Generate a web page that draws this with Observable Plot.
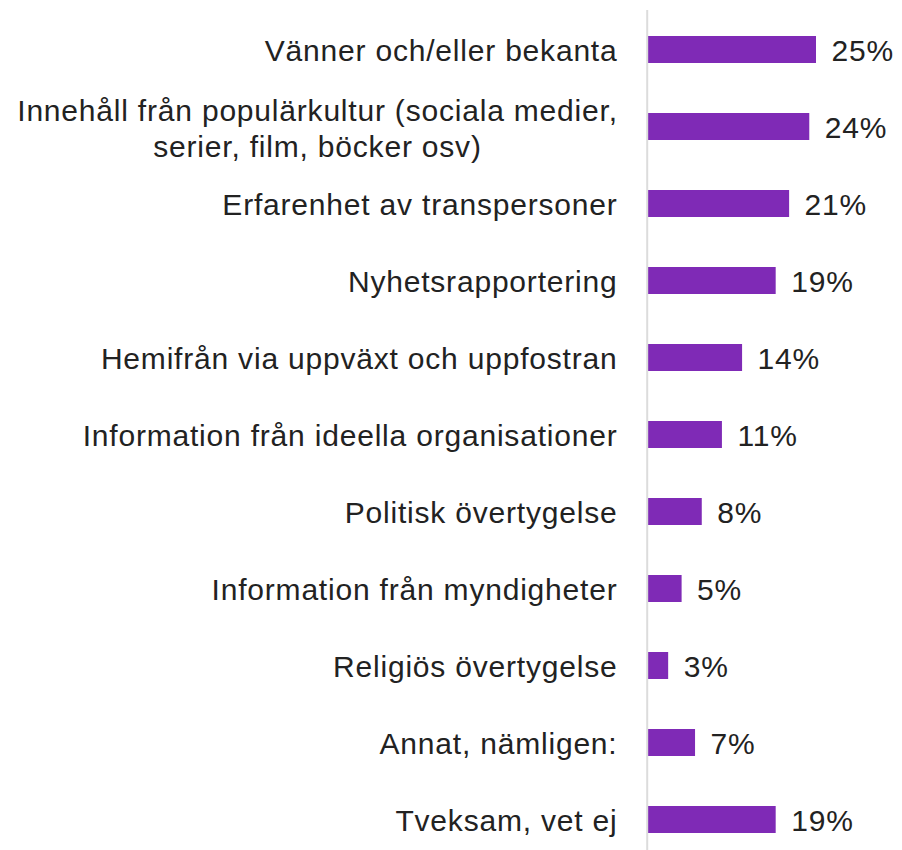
<!DOCTYPE html>
<html>
<head>
<meta charset="utf-8">
<script src="https://cdn.jsdelivr.net/npm/d3@7"></script>
<script src="https://cdn.jsdelivr.net/npm/@observablehq/plot@0.6"></script>
<style>
  html, body { margin: 0; padding: 0; background: #fff; }
</style>
</head>
<body>
<div id="chart"></div>
<script>
const categories = [
  "Vänner och/eller bekanta",
  "Innehåll från populärkultur (sociala medier,\nserier, film, böcker osv)",
  "Erfarenhet av transpersoner",
  "Nyhetsrapportering",
  "Hemifrån via uppväxt och uppfostran",
  "Information från ideella organisationer",
  "Politisk övertygelse",
  "Information från myndigheter",
  "Religiös övertygelse",
  "Annat, nämligen:",
  "Tveksam, vet ej"
];
const values = [25, 24, 21, 19, 14, 11, 8, 5, 3, 7, 19];
const valueLabels = ["25%", "24%", "21%", "19%", "14%", "11%", "8%", "5%", "3%", "7%", "19%"];

const data = categories.map((c, i) => ({category: c, value: values[i], label: valueLabels[i]}));
const single = data.filter(d => !d.category.includes("\n"));
const multi = data.filter(d => d.category.includes("\n"));

const chart = Plot.plot({
  width: 902,
  height: 850,
  marginLeft: 648,
  marginRight: 86,
  marginTop: 10,
  marginBottom: 0,
  style: {fontFamily: "Liberation Sans, Arial, sans-serif", fontSize: "30px", letterSpacing: "0.8px", background: "#fff", color: "#222"},
  x: {domain: [0, 25], axis: null},
  y: {domain: categories, axis: null, paddingInner: 0.65, paddingOuter: 0.2725, align: 0.595},
  marks: [
    Plot.barX(data, {x: "value", y: "category", fill: "#7f2ab6"}),
    Plot.ruleX([0], {stroke: "#dcdcdc", strokeWidth: 2, dx: -1.3}),
    Plot.text(single, {x: 0, y: "category", text: "category", textAnchor: "end", dx: -31, dy: 1, fill: "#222", fontSize: 30}),
    Plot.text(multi, {x: 0, y: "category", text: "category", textAnchor: "middle", dx: -331, dy: 0, lineHeight: 1.2, fill: "#222", fontSize: 30}),
    Plot.text(data, {x: "value", y: "category", text: "label", textAnchor: "start", dx: 15, dy: 1, fill: "#222", fontSize: 30})
  ]
});
document.getElementById("chart").appendChild(chart);
</script>
</body>
</html>
